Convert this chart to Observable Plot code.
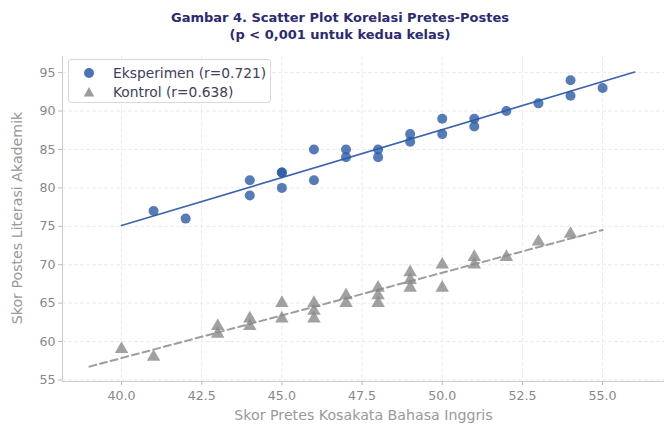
<!DOCTYPE html>
<html><head><meta charset="utf-8">
<script src="https://cdn.jsdelivr.net/npm/d3@7"></script>
<script src="https://cdn.jsdelivr.net/npm/@observablehq/plot@0.6"></script>
<style>
body{margin:0;background:#fff;font-family:"DejaVu Sans",sans-serif;}
#wrap{position:relative;width:664px;height:425px;overflow:hidden;}
#title{height:48px;text-align:center;font-weight:bold;font-size:13px;line-height:17px;color:#2b2a72;padding-top:9px;padding-left:16px;box-sizing:border-box;}
#legend{position:absolute;left:68px;top:59px;width:203px;height:44px;border:1px solid #d9d9d9;border-radius:3px;background:rgba(255,255,255,0.85);font-size:13.8px;color:#40405a;box-sizing:border-box;}
#legend .row{position:absolute;left:0;height:18px;display:flex;align-items:center;white-space:nowrap;}
#legend svg{margin-left:13px;margin-right:17px;}
#ylab{position:absolute;left:17px;top:218px;transform:translate(-50%,-50%) rotate(-90deg);font-size:14.2px;color:#999;white-space:nowrap;}
</style></head>
<body><div id="wrap">
<div id="title">Gambar 4. Scatter Plot Korelasi Pretes-Postes<br>(p &lt; 0,001 untuk kedua kelas)</div>
<div id="chart"></div>
<div id="ylab">Skor Postes Literasi Akademik</div>
<div id="legend">
 <div class="row" style="top:4px"><svg width="14" height="14"><circle cx="7" cy="7" r="5" fill="#2a5aa8" fill-opacity="0.85"/></svg>Eksperimen (r=0.721)</div>
 <div class="row" style="top:23px"><svg width="14" height="14"><path d="M7,2L12.2,11.5L1.8,11.5Z" fill="#8a8a8a" fill-opacity="0.85"/></svg>Kontrol (r=0.638)</div>
</div>
</div>
<script>
const expX = [41,42,44,44,45,45,45,46,46,47,47,48,48,49,49,50,50,51,51,52,53,54,54,55];
const expY = [77,76,81,79,82,82,80,85,81,85,84,85,84,87,86,89,87,89,88,90,91,94,92,93];
const ctlX = [40,41,43,43,44,44,45,45,46,46,46,47,47,48,48,48,49,49,49,50,50,51,51,52,53,54];
const ctlY = [59,58,62,61,63,62,65,63,65,64,63,66,65,67,66,65,69,68,67,70,67,71,70,71,73,74];
const xTicks = [40,42.5,45,47.5,50,52.5,55];
const yTicks = [55,60,65,70,75,80,85,90,95];

function fit(xs, ys){
  const mx = d3.mean(xs), my = d3.mean(ys);
  let sxy=0, sxx=0;
  xs.forEach((x,i)=>{sxy+=(x-mx)*(ys[i]-my); sxx+=(x-mx)*(x-mx);});
  const b = sxy/sxx, a = my-b*mx;
  return x => a + b*x;
}
function fitLine(xs, ys){
  const f = fit(xs, ys);
  const [lo, hi] = d3.extent(xs);
  return [lo-1, hi+1].map(x=>({x, y: f(x)}));
}
const expPts = expX.map((x,i)=>({x, y: expY[i]}));
const ctlPts = ctlX.map((x,i)=>({x, y: ctlY[i]}));
const expLine = fitLine(expX, expY);
const ctlLine = fitLine(ctlX, ctlY);

const chart = Plot.plot({
  width: 664, height: 377,
  marginLeft: 62, marginRight: 0, marginTop: 8, marginBottom: 44,
  style: {fontFamily: "DejaVu Sans, sans-serif", fontSize: "12.6px", color: "#888", background: "#fff"},
  x: {domain: [38.16, 56.93], label: null},
  y: {domain: [54.8, 97.1], label: null},
  marks: [
    Plot.gridX(xTicks, {stroke: "#ececec", strokeOpacity: 1, strokeDasharray: "4,2"}),
    Plot.gridY(yTicks, {stroke: "#ececec", strokeOpacity: 1, strokeDasharray: "4,2"}),
    Plot.axisX(xTicks, {tickSize: 4, tickPadding: 6, stroke: "#bbb", fill: "#888", tickFormat: d3.format(".1f"), label: null}),
    Plot.axisY(yTicks, {tickSize: 4, tickPadding: 3, stroke: "#bbb", fill: "#888", label: null}),
    Plot.ruleX([38.16], {stroke: "#ccc"}),
    Plot.ruleY([54.8], {stroke: "#ccc"}),
    Plot.line(ctlLine, {x: "x", y: "y", stroke: "#8c8c8c", strokeWidth: 2, strokeDasharray: "7,4", strokeOpacity: 0.85}),
    Plot.line(expLine, {x: "x", y: "y", stroke: "#3b63b0", strokeWidth: 1.6}),
    Plot.dot(expPts, {x: "x", y: "y", r: 5, fill: "#2a5aa8", fillOpacity: 0.8, stroke: "none"}),
    Plot.dot(ctlPts, {x: "x", y: "y", r: 5, symbol: "triangle", fill: "#8a8a8a", fillOpacity: 0.8, stroke: "none"}),
    Plot.text(["Skor Pretes Kosakata Bahasa Inggris"], {frameAnchor: "bottom", dy: 38, fontSize: 14.2, fill: "#999"})
  ]
});
document.getElementById("chart").appendChild(chart);
</script>
</body></html>
